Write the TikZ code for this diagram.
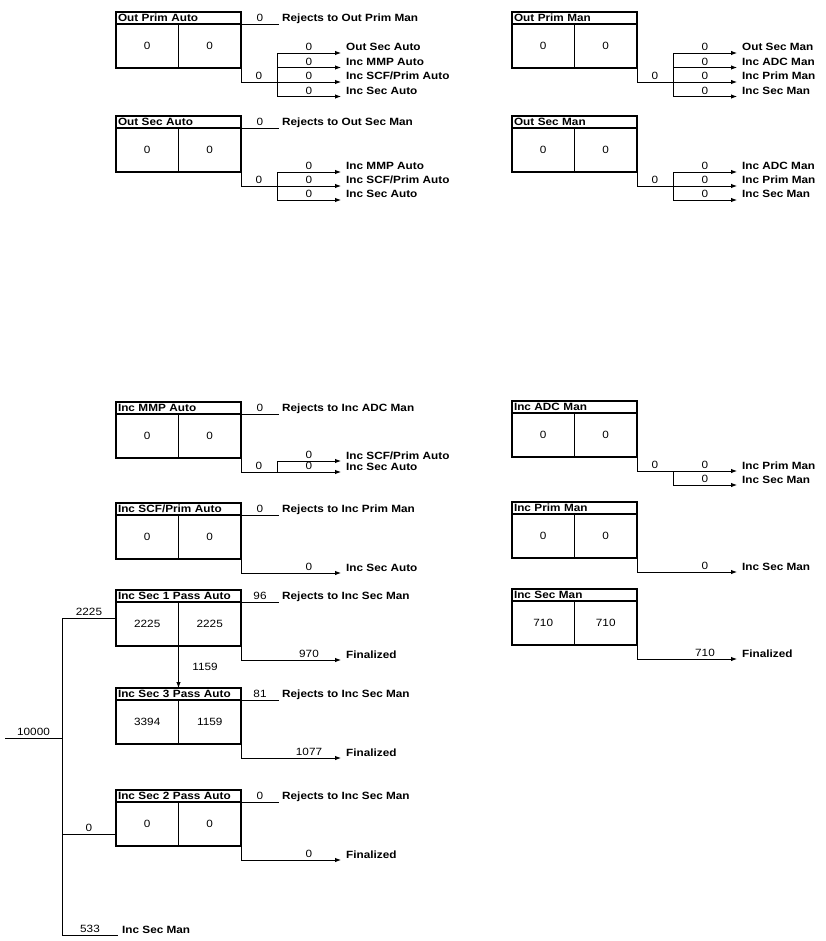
\documentclass[tikz,border=0pt]{standalone}
\usepackage{fontspec}
\setmainfont{Liberation Sans}[FakeStretch=1.12]
\usetikzlibrary{arrows.meta,calc,positioning}
\tikzset{
  boxhead/.style={draw, line width=1.2pt, anchor=north west, minimum width=125pt, minimum height=12pt, text width=121pt, inner xsep=2pt, inner ysep=0pt, outer sep=0pt, align=left, font=\fontsize{10.5}{12}\selectfont\bfseries},
  boxcell/.style={draw, line width=1.2pt, anchor=north west, minimum width=62.5pt, minimum height=44pt, inner sep=0pt, outer sep=0pt, font=\fontsize{10.5}{12}\selectfont},
  flowline/.style={line width=0.9pt},
  flowarrow/.style={-{Latex[length=6pt,width=4.5pt]}, line width=0.9pt},
  flownum/.style={font=\fontsize{10.5}{12}\selectfont, inner sep=1.5pt},
  flowtext/.style={font=\fontsize{10.5}{12}\selectfont\bfseries, anchor=base west, inner sep=0pt}
}

\begin{document}
\begin{tikzpicture}[x=1pt,y=-1pt]
  \useasboundingbox (0,0) rectangle (825,941);
  % stage boxes: title row and two count cells
  \foreach \n/\x/\y/\t/\a/\b in {opa/116/12/Out Prim Auto/0/0, osa/116/116/Out Sec Auto/0/0,
      mmp/116/402/Inc MMP Auto/0/0, scf/116/503/{Inc SCF/Prim Auto}/0/0,
      sec1/116/590/Inc Sec 1 Pass Auto/2225/2225, sec3/116/688/Inc Sec 3 Pass Auto/3394/1159,
      sec2/116/790/Inc Sec 2 Pass Auto/0/0, opm/512/12/Out Prim Man/0/0, osm/512/116/Out Sec Man/0/0,
      adc/512/401/Inc ADC Man/0/0, ipm/512/502/Inc Prim Man/0/0, ism/512/589/Inc Sec Man/710/710} {
    \node[boxhead] (\n) at (\x,\y) {\t};
    \node[boxcell] (\n-l) at (\n.south west) {\a};
    \node[boxcell] (\n-r) at (\n-l.north east) {\b};
    \coordinate (\n-o) at ($(\n-r.south east)+(0,14)$);
    \coordinate (\n-s) at ($(\n-o)+(36,0)$);
    \draw[flowline] (\n-r.south east) -- (\n-o);
  }
  % rejects
  \foreach \n/\v/\t in {opa/0/Out Prim Man, osa/0/Out Sec Man, mmp/0/Inc ADC Man, scf/0/Inc Prim Man,
      sec1/96/Inc Sec Man, sec3/81/Inc Sec Man, sec2/0/Inc Sec Man} {
    \coordinate (\n-rj) at ($(\n.south east)+(38,0)$);
    \draw[flowline] (\n.south east) -- node[flownum, above] {\v} (\n-rj);
    \node[flowtext] (\n-rt) at ($(\n-rj)+(3,-2.5)$) {Rejects to \t};
  }
  % outflows
  \foreach \n in {opa, osa, mmp, opm, osm, adc}
    \draw[flowline] (\n-o) -- node[flownum, above] {0} (\n-s);
  \foreach \n in {scf, sec1, sec3, sec2, ipm, ism}
    \draw[flowline] (\n-o) -- (\n-s);
  \foreach \n/\i/\dy/\v/\t in {opa/1/-29/0/Out Sec Auto, opa/2/-14.5/0/Inc MMP Auto,
      opa/3/0/0/{Inc SCF/Prim Auto}, opa/4/14.5/0/Inc Sec Auto,
      osa/1/-14/0/Inc MMP Auto, osa/2/0/0/{Inc SCF/Prim Auto}, osa/3/14/0/Inc Sec Auto,
      mmp/1/-11/0/{Inc SCF/Prim Auto}, mmp/2/0/0/Inc Sec Auto, scf/1/0/0/Inc Sec Auto,
      sec1/1/0/970/Finalized, sec3/1/0/1077/Finalized, sec2/1/0/0/Finalized,
      opm/1/-29/0/Out Sec Man, opm/2/-14.5/0/Inc ADC Man, opm/3/0/0/Inc Prim Man, opm/4/14.5/0/Inc Sec Man,
      osm/1/-14/0/Inc ADC Man, osm/2/0/0/Inc Prim Man, osm/3/14/0/Inc Sec Man,
      adc/1/0/0/Inc Prim Man, adc/2/14/0/Inc Sec Man, ipm/1/0/0/Inc Sec Man, ism/1/0/710/Finalized} {
    \coordinate (\n-t\i) at ($(\n-o)+(100,\dy)$);
    \draw[flowarrow] (\n-s) |- node[flownum, above, pos=0.75] {\v} (\n-t\i);
    \node[flowtext] (\n-tt\i) at ($(\n-t\i)+(5,-2)$) {\t};
  }
  % second pass into third pass
  \draw[flowarrow] (sec1-l.south east) -- node[flownum, right, xshift=12pt] {1159} (sec1-l.south east |- sec3.north);
  % feed trunk
  \coordinate (feed) at (5,738);
  \coordinate (trunk) at (62,935);
  \coordinate (sec1-in) at ($(sec1-l.north west)+(0,16)$);
  \coordinate (sec2-in) at ($(sec2-l.north west)+(0,32)$);
  \coordinate (man-in) at (118,935);
  \draw[flowline] (sec1-in) -| node[flownum, above, pos=0.25] {2225} (trunk);
  \draw[flowline] (feed) -- node[flownum, above] {10000} (feed -| trunk);
  \draw[flowline] (sec2-in -| trunk) -- node[flownum, above] {0} (sec2-in);
  \draw[flowline] (trunk) -- node[flownum, above] {533} (man-in);
  \node[flowtext] (man-tt) at ($(man-in)+(4,-2)$) {Inc Sec Man};
\end{tikzpicture}
\end{document}
